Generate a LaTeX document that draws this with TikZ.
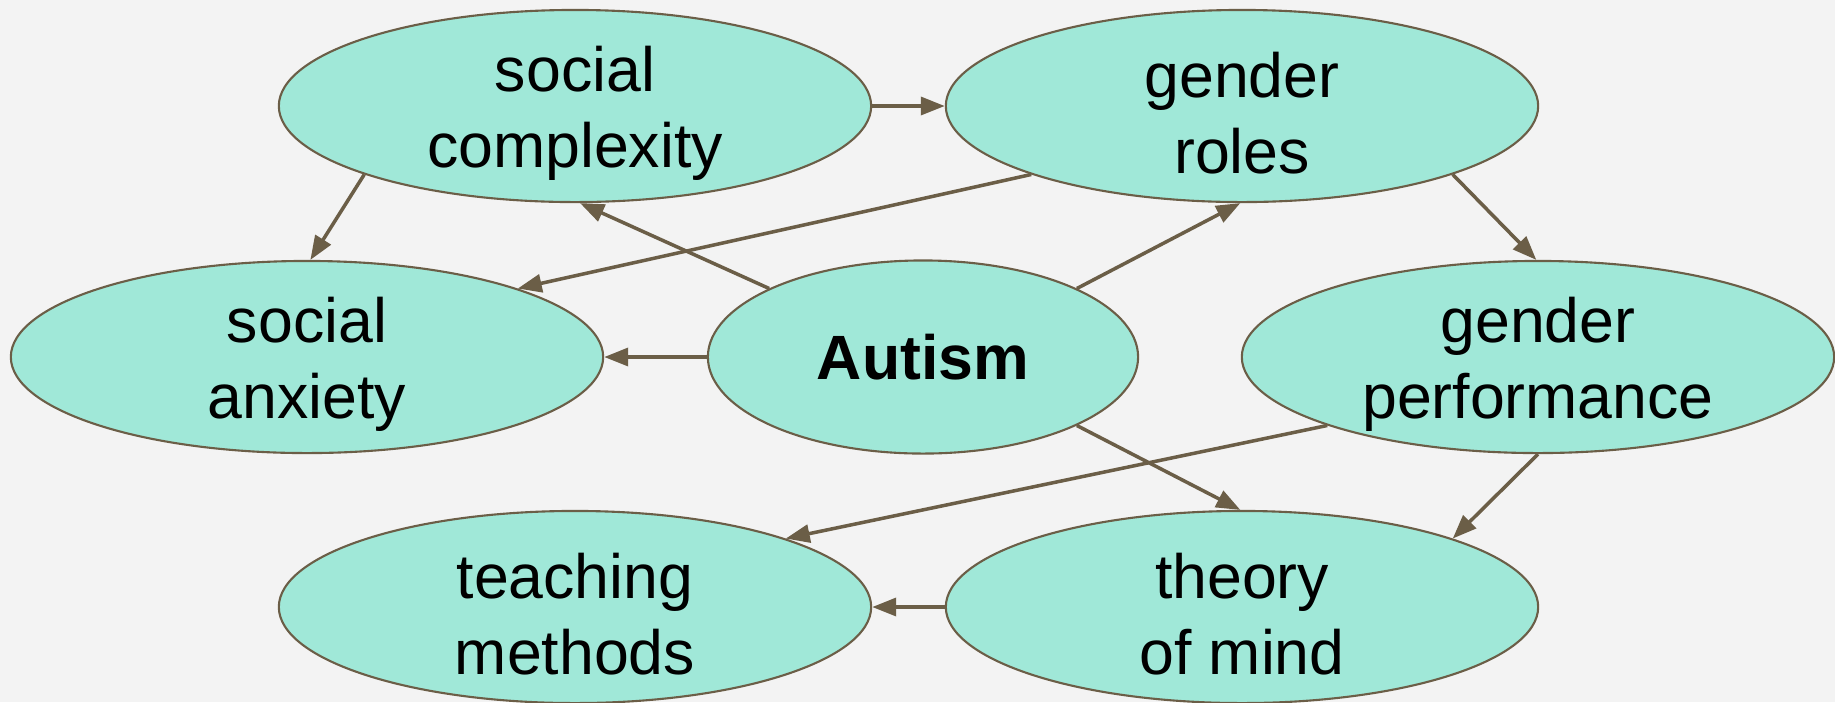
\documentclass[tikz,border=0pt]{standalone}
\usepackage{fontspec}
\setmainfont{Liberation Sans}
\usetikzlibrary{shapes.geometric,arrows.meta}
\definecolor{bgcol}{HTML}{F3F3F3}
\definecolor{nodefill}{HTML}{A0E8D8}
\definecolor{edgecol}{HTML}{6B5E47}
\begin{document}
\begin{tikzpicture}[x=0.01cm,y=-0.01cm,
    topic/.style={ellipse,draw=edgecol,line width=0.6pt,fill=nodefill,inner sep=0pt,
      minimum width=5.92cm,minimum height=1.92cm},
    topictext/.style={align=center,inner sep=0pt,yshift=-2pt,
      font=\fontsize{17.8}{21.5}\selectfont},
    link/.style={-{Triangle[length=0.24cm,width=0.18cm]},draw=edgecol,line width=1pt}]
    \fill[bgcol](0,0)rectangle(1835,702);
    \useasboundingbox(0,0)rectangle(1835,702);
    % nodes
    \node[topic,label={[topictext]center:social\\complexity}](complexity) at (575,106) {};
    \node[topic,label={[topictext]center:gender\\roles}](roles) at (1242,106) {};
    \node[topic,label={[topictext]center:social\\anxiety}](anxiety) at (307,357) {};
    \node[topic,minimum width=4.30cm,minimum height=1.93cm,
      font=\fontsize{17.8}{21.5}\selectfont\bfseries](autism) at (923,357) {Autism};
    \node[topic,label={[topictext]center:gender\\performance}](performance) at (1538,357) {};
    \node[topic,label={[topictext]center:teaching\\methods}](teaching) at (575,607) {};
    \node[topic,label={[topictext]center:theory\\of mind}](mind) at (1242,607) {};
    % links
    \draw[link](complexity.0)--(roles.180);
    \draw[link](complexity.198)--(anxiety.88);
    \draw[link](roles.198)--(anxiety.18);
    \draw[link](autism.156)--(complexity.273);
    \draw[link](autism.24)--(roles.269);
    \draw[link](autism.180)--(anxiety.0);
    \draw[link](roles.342)--(performance.91);
    \draw[link](autism.336)--(mind.91);
    \draw[link](performance.198)--(teaching.18);
    \draw[link](performance.270)--(mind.18);
    \draw[link](mind.180)--(teaching.0);
\end{tikzpicture}
\end{document}
